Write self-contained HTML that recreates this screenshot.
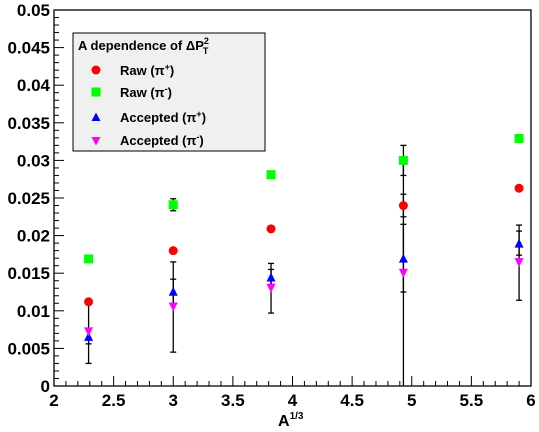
<!DOCTYPE html>
<html><head><meta charset="utf-8"><style>
body{margin:0;background:#fff;}
svg{display:block;font-family:"Liberation Sans",sans-serif;font-weight:bold;}
text{font-weight:bold;}
</style></head><body>
<svg id="chart" width="539" height="432" viewBox="0 0 539 432">
<rect x="0" y="0" width="539" height="432" fill="#fff"/>
<g id="axes"></g>
<g id="marks"></g>
<g id="legend">
<rect x="73" y="33" width="192" height="118" fill="#f0f0f0" stroke="#000" stroke-width="1"/>
<text x="78" y="50" font-size="13" font-weight="bold">A dependence of ΔP<tspan font-size="9" dy="-6">2</tspan><tspan font-size="9" dx="-6" dy="10">T</tspan></text>
<circle cx="96" cy="70" r="4.5" fill="#f00"/>
<text x="120" y="75" font-size="13" font-weight="bold">Raw (π<tspan font-size="9" dy="-5">+</tspan><tspan dy="5">)</tspan></text>
<rect x="91.5" y="87.5" width="9" height="9" fill="#0f0"/>
<text x="120" y="97" font-size="13" font-weight="bold">Raw (π<tspan font-size="9" dy="-5">-</tspan><tspan dy="5">)</tspan></text>
<polygon points="96,112.5 100.5,121 91.5,121" fill="#00f"/>
<text x="120" y="122" font-size="13" font-weight="bold">Accepted (π<tspan font-size="9" dy="-5">+</tspan><tspan dy="5">)</tspan></text>
<polygon points="91.5,137 100.5,137 96,145.5" fill="#f0f"/>
<text x="120" y="145" font-size="13" font-weight="bold">Accepted (π<tspan font-size="9" dy="-5">-</tspan><tspan dy="5">)</tspan></text>
</g>
<text x="278" y="426" font-size="16" font-weight="bold">A<tspan font-size="10" dy="-7">1/3</tspan></text>
</svg>
<script>
const xs = [2.29, 3.0, 3.82, 4.93, 5.9];
const rawPlus = [0.0112, 0.018, 0.0209, 0.024, 0.0263];
const rawPlusErr = [0.0003, 0.0003, 0.0003, 0.0015, 0.0003];
const rawMinus = [0.0169, 0.0241, 0.0281, 0.030, 0.0329];
const rawMinusErr = [0.0002, 0.0008, 0.0003, 0.002, 0.0005];
const accPlus = [0.0066, 0.0126, 0.0145, 0.017, 0.019];
const accPlusErr = [0.001, 0.0016, 0.001, 0.0045, 0.0016];
const accMinus = [0.0072, 0.0105, 0.013, 0.015, 0.0164];
const accMinusErr = [0.0042, 0.006, 0.0033, 0.015, 0.005];
const yTicks = ["0","0.005","0.01","0.015","0.02","0.025","0.03","0.035","0.04","0.045","0.05"];
const xTicks = ["2","2.5","3","3.5","4","4.5","5","5.5","6"];

const X0=54,X1=531,Y0=386,Y1=10;
const sx=v=>X0+(v-2)/4*(X1-X0);
const sy=v=>Y0-v/0.05*(Y0-Y1);
const NS="http://www.w3.org/2000/svg";
function mk(tag,attrs,parent){const e=document.createElementNS(NS,tag);for(const k in attrs)e.setAttribute(k,attrs[k]);parent.appendChild(e);return e;}
const axes=document.getElementById('axes'), marks=document.getElementById('marks');
const frame=mk('rect',{x:X0,y:Y1,width:X1-X0,height:Y0-Y1,fill:'none',stroke:'#000','stroke-width':1.3},axes);


for(let i=0;i<=50;i++){const y=sy(i*0.001);const len=i%5==0?10:5;
 const t=mk('line',{x1:X0,x2:X0+len,y1:y,y2:y,stroke:'#000','stroke-width':1},axes);
 
 }
yTicks.forEach((s,i)=>{const t=mk('text',{x:50,y:sy(i*0.005)+6,'text-anchor':'end','font-size':17,'font-weight':'bold'},axes);t.textContent=s;
 
 });
for(let i=0;i<=40;i++){const x=sx(2+i*0.1);const len=i%5==0?10:5;
 const t=mk('line',{x1:x,x2:x,y1:Y0,y2:Y0-len,stroke:'#000','stroke-width':1},axes);
 
 }
xTicks.forEach((s,i)=>{const t=mk('text',{x:sx(2+i*0.5),y:406,'text-anchor':'middle','font-size':17,'font-weight':'bold'},axes);t.textContent=s;
 
 });
function err(x,v,e,name){const px=sx(x);
 const g=mk('g',{stroke:'#000','stroke-width':1.3},marks);
 
 
 const lo=Math.max(0,v-e);
 mk('line',{x1:px,x2:px,y1:sy(lo),y2:sy(v+e)},g);
 mk('line',{x1:px-3,x2:px+3,y1:sy(v+e),y2:sy(v+e)},g);
 if(v-e>0)mk('line',{x1:px-3,x2:px+3,y1:sy(lo),y2:sy(lo)},g);}
xs.forEach((x,i)=>{err(x,accMinus[i],accMinusErr[i],'accepted-pi-minus');err(x,accPlus[i],accPlusErr[i],'accepted-pi-plus');
 err(x,rawPlus[i],rawPlusErr[i],'raw-pi-plus');err(x,rawMinus[i],rawMinusErr[i],'raw-pi-minus');});
xs.forEach((x,i)=>{const px=sx(x);
 let y=sy(rawPlus[i]);
 const c=mk('circle',{cx:px,cy:y,r:4.5,fill:'#f00'},marks);
 
 
 y=sy(rawMinus[i]);
 const r=mk('rect',{x:px-4.5,y:y-4.5,width:9,height:9,fill:'#0f0'},marks);
 
 
 y=sy(accPlus[i]);
 const t=mk('polygon',{points:`${px},${y-4.5} ${px+4.5},${y+4.5} ${px-4.5},${y+4.5}`,fill:'#00f'},marks);
 
 
 y=sy(accMinus[i]);
 const d=mk('polygon',{points:`${px-4.5},${y-4.5} ${px+4.5},${y-4.5} ${px},${y+4.5}`,fill:'#f0f'},marks);
 
 });
</script>
</body></html>
